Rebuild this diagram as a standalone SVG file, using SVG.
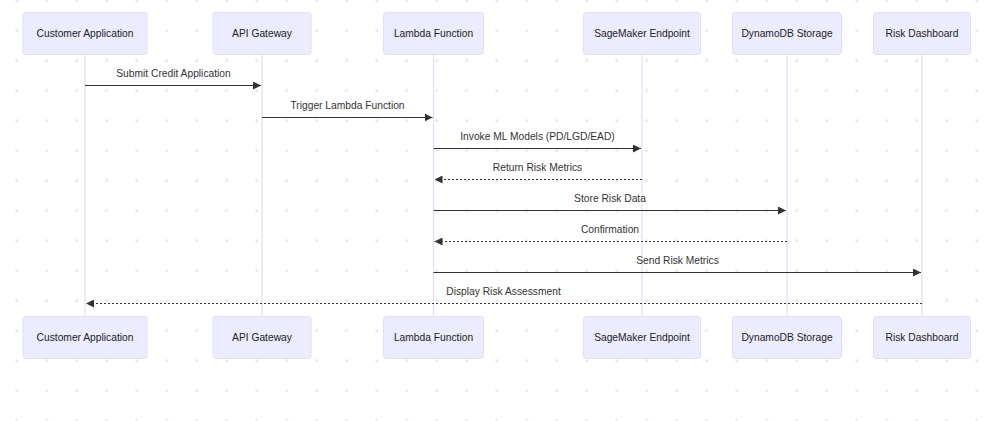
<svg xmlns="http://www.w3.org/2000/svg" width="990" height="421" viewBox="0 0 990 421">
<defs>
<pattern id="dots" patternUnits="userSpaceOnUse" x="1.7" y="-14.3" width="30" height="30">
<circle cx="15" cy="15" r="1.4" fill="#e4e4e4"/>
</pattern>
<marker id="arrow" viewBox="0 0 10 10" refX="10" refY="5" markerWidth="8" markerHeight="8" markerUnits="userSpaceOnUse" orient="auto">
<path d="M0,0 L10,5 L0,10 z" fill="#333"/>
</marker>
<style>
.actor{fill:#ECECFF;stroke:#E2DCF7;stroke-width:1}
.atext{font-family:"Liberation Sans",Arial,sans-serif;font-size:10.25px;fill:#222;text-anchor:middle}
.life{stroke:#E2DCF7;stroke-width:1.2}
.msg{stroke:#333;stroke-width:1;fill:none;marker-end:url(#arrow)}
.dash{stroke-dasharray:2,2}
.mtext{font-family:"Liberation Sans",Arial,sans-serif;font-size:10.25px;fill:#333;text-anchor:middle}
</style>
</defs>
<rect width="990" height="421" fill="#ffffff"/>
<rect width="990" height="421" fill="url(#dots)"/>

<g id="lifelines">
<line class="life" x1="85" y1="54" x2="85" y2="316"/>
<line class="life" x1="262" y1="54" x2="262" y2="316"/>
<line class="life" x1="433.5" y1="54" x2="433.5" y2="316"/>
<line class="life" x1="642" y1="54" x2="642" y2="316"/>
<line class="life" x1="787" y1="54" x2="787" y2="316"/>
<line class="life" x1="922" y1="54" x2="922" y2="316"/>
</g>

<g id="customer-app">
<rect class="actor" x="23" y="12.5" width="124" height="42" rx="3"/>
<text class="atext" x="85" y="37">Customer Application</text>
<rect class="actor" x="23" y="316.5" width="124" height="42" rx="3"/>
<text class="atext" x="85" y="341">Customer Application</text>
</g>
<g id="api-gateway">
<rect class="actor" x="213" y="12.5" width="98" height="42" rx="3"/>
<text class="atext" x="262" y="37">API Gateway</text>
<rect class="actor" x="213" y="316.5" width="98" height="42" rx="3"/>
<text class="atext" x="262" y="341">API Gateway</text>
</g>
<g id="lambda-function">
<rect class="actor" x="383.5" y="12.5" width="100" height="42" rx="3"/>
<text class="atext" x="433.5" y="37">Lambda Function</text>
<rect class="actor" x="383.5" y="316.5" width="100" height="42" rx="3"/>
<text class="atext" x="433.5" y="341">Lambda Function</text>
</g>
<g id="sagemaker-endpoint">
<rect class="actor" x="583.5" y="12.5" width="117" height="42" rx="3"/>
<text class="atext" x="642" y="37">SageMaker Endpoint</text>
<rect class="actor" x="583.5" y="316.5" width="117" height="42" rx="3"/>
<text class="atext" x="642" y="341">SageMaker Endpoint</text>
</g>
<g id="dynamodb-storage">
<rect class="actor" x="732.5" y="12.5" width="109" height="42" rx="3"/>
<text class="atext" x="787" y="37">DynamoDB Storage</text>
<rect class="actor" x="732.5" y="316.5" width="109" height="42" rx="3"/>
<text class="atext" x="787" y="341">DynamoDB Storage</text>
</g>
<g id="risk-dashboard">
<rect class="actor" x="873.5" y="12.5" width="97" height="42" rx="3"/>
<text class="atext" x="922" y="37">Risk Dashboard</text>
<rect class="actor" x="873.5" y="316.5" width="97" height="42" rx="3"/>
<text class="atext" x="922" y="341">Risk Dashboard</text>
</g>

<g id="connectors">
<line class="msg" x1="85" y1="85.5" x2="261" y2="85.5"/>
<text class="mtext" x="173.5" y="77">Submit Credit Application</text>
<line class="msg" x1="262" y1="117.5" x2="432.5" y2="117.5"/>
<text class="mtext" x="347.5" y="108.5">Trigger Lambda Function</text>
<line class="msg" x1="433.5" y1="148.5" x2="641" y2="148.5"/>
<text class="mtext" x="537.5" y="139.5">Invoke ML Models (PD/LGD/EAD)</text>
<line class="msg dash" x1="642" y1="179.5" x2="434.5" y2="179.5"/>
<text class="mtext" x="537.5" y="170.5">Return Risk Metrics</text>
<line class="msg" x1="433.5" y1="210.5" x2="786" y2="210.5"/>
<text class="mtext" x="610" y="201.5">Store Risk Data</text>
<line class="msg dash" x1="787" y1="241.5" x2="434.5" y2="241.5"/>
<text class="mtext" x="610" y="232.5">Confirmation</text>
<line class="msg" x1="433.5" y1="272.5" x2="921" y2="272.5"/>
<text class="mtext" x="677.5" y="263.5">Send Risk Metrics</text>
<line class="msg dash" x1="922" y1="303.5" x2="86" y2="303.5"/>
<text class="mtext" x="503.5" y="294.5">Display Risk Assessment</text>
</g>
</svg>
